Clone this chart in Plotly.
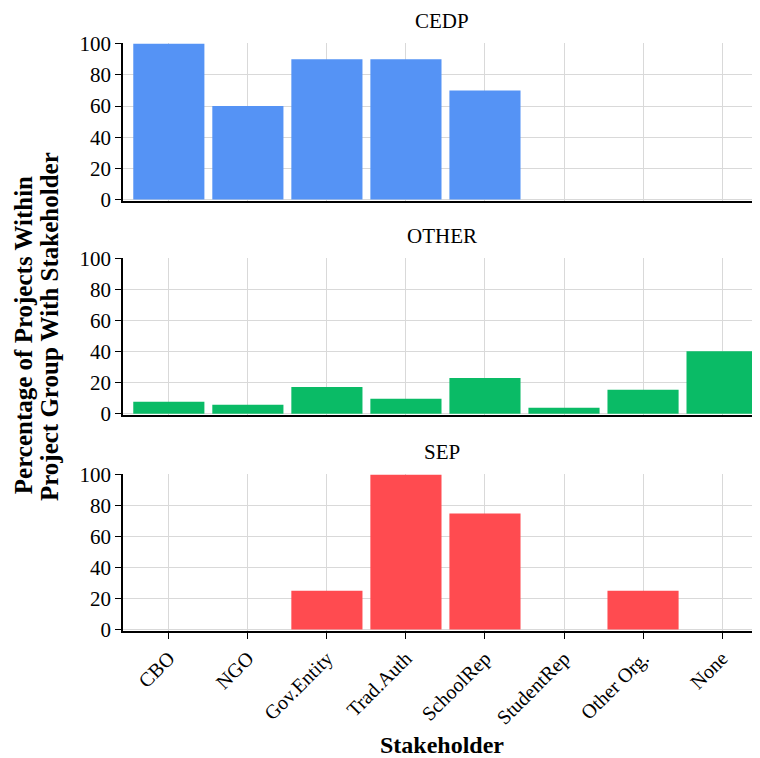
import plotly.graph_objects as go

categories = ["CBO", "NGO", "Gov.Entity", "Trad.Auth", "SchoolRep", "StudentRep", "Other Org.", "None"]
groups = ["CEDP", "OTHER", "SEP"]
cedp_values = [100, 60, 90, 90, 70, 0, 0, 0]
other_values = [7.7, 5.8, 17.3, 9.6, 23.1, 3.8, 15.4, 40.4]
sep_values = [0, 0, 25, 100, 75, 0, 25, 0]
colors = ["#5593f5", "#0abb66", "#ff4b50"]
y_ticks = [0, 20, 40, 60, 80, 100]
y_title_lines = ["Percentage of Projects Within", "Project Group With Stakeholder"]

series = [cedp_values, other_values, sep_values]
domains = [[0.731, 1.0], [0.367, 0.634], [0.0, 0.267]]
FONT = "Liberation Serif"

fig = go.Figure()
for i, (g, vals, col) in enumerate(zip(groups, series, colors)):
    n = "" if i == 0 else str(i + 1)
    fig.add_trace(go.Bar(
        x=categories, y=vals, name=g, marker_color=col, marker_line_width=0,
        width=0.9, xaxis="x" + n, yaxis="y" + n, showlegend=False,
    ))
    last = (i == 2)
    fig.layout["xaxis" + n] = dict(
        anchor="y" + n, domain=[0, 1], range=[-0.58, 7.48],
        categoryorder="array", categoryarray=categories,
        showgrid=True, gridcolor="#d9d9d9", gridwidth=1,
        showline=True, linecolor="black", linewidth=1.5,
        showticklabels=last, ticks="outside" if last else "",
        ticklen=6, tickcolor="black", tickangle=-45,
        tickfont=dict(family=FONT, size=20, color="black"),
        matches="x" if i else None, zeroline=False,
    )
    fig.layout["yaxis" + n] = dict(
        anchor="x" + n, domain=domains[i], range=[-1, 100.5],
        tickvals=y_ticks, showgrid=True, gridcolor="#d9d9d9", gridwidth=1,
        showline=True, linecolor="black", linewidth=1.5,
        ticks="outside", ticklen=6, tickcolor="black",
        tickfont=dict(family=FONT, size=21, color="black"), zeroline=False,
    )
    fig.add_annotation(
        text=g, xref="paper", yref="paper", x=0.5, y=domains[i][1],
        yshift=22, yanchor="middle", showarrow=False,
        font=dict(family=FONT, size=21, color="black"),
    )

for line, xp, yp in zip(y_title_lines, [-0.157, -0.116], [0.503, 0.517]):
    fig.add_annotation(
        text="<b>" + line + "</b>",
        xref="paper", yref="paper", x=xp, y=yp, xanchor="center", yanchor="middle",
        textangle=-90, showarrow=False,
        font=dict(family=FONT, size=25, color="black"),
    )
fig.add_annotation(
    text="<b>Stakeholder</b>", xref="paper", yref="paper", x=0.5, y=-0.194,
    xanchor="center", yanchor="middle", showarrow=False,
    font=dict(family=FONT, size=24, color="black"),
)

fig.update_layout(
    width=760, height=758, paper_bgcolor="white", plot_bgcolor="white",
    margin=dict(l=115, r=8, t=35, b=135), bargap=0.1,
)
fig.write_html("out.html")
